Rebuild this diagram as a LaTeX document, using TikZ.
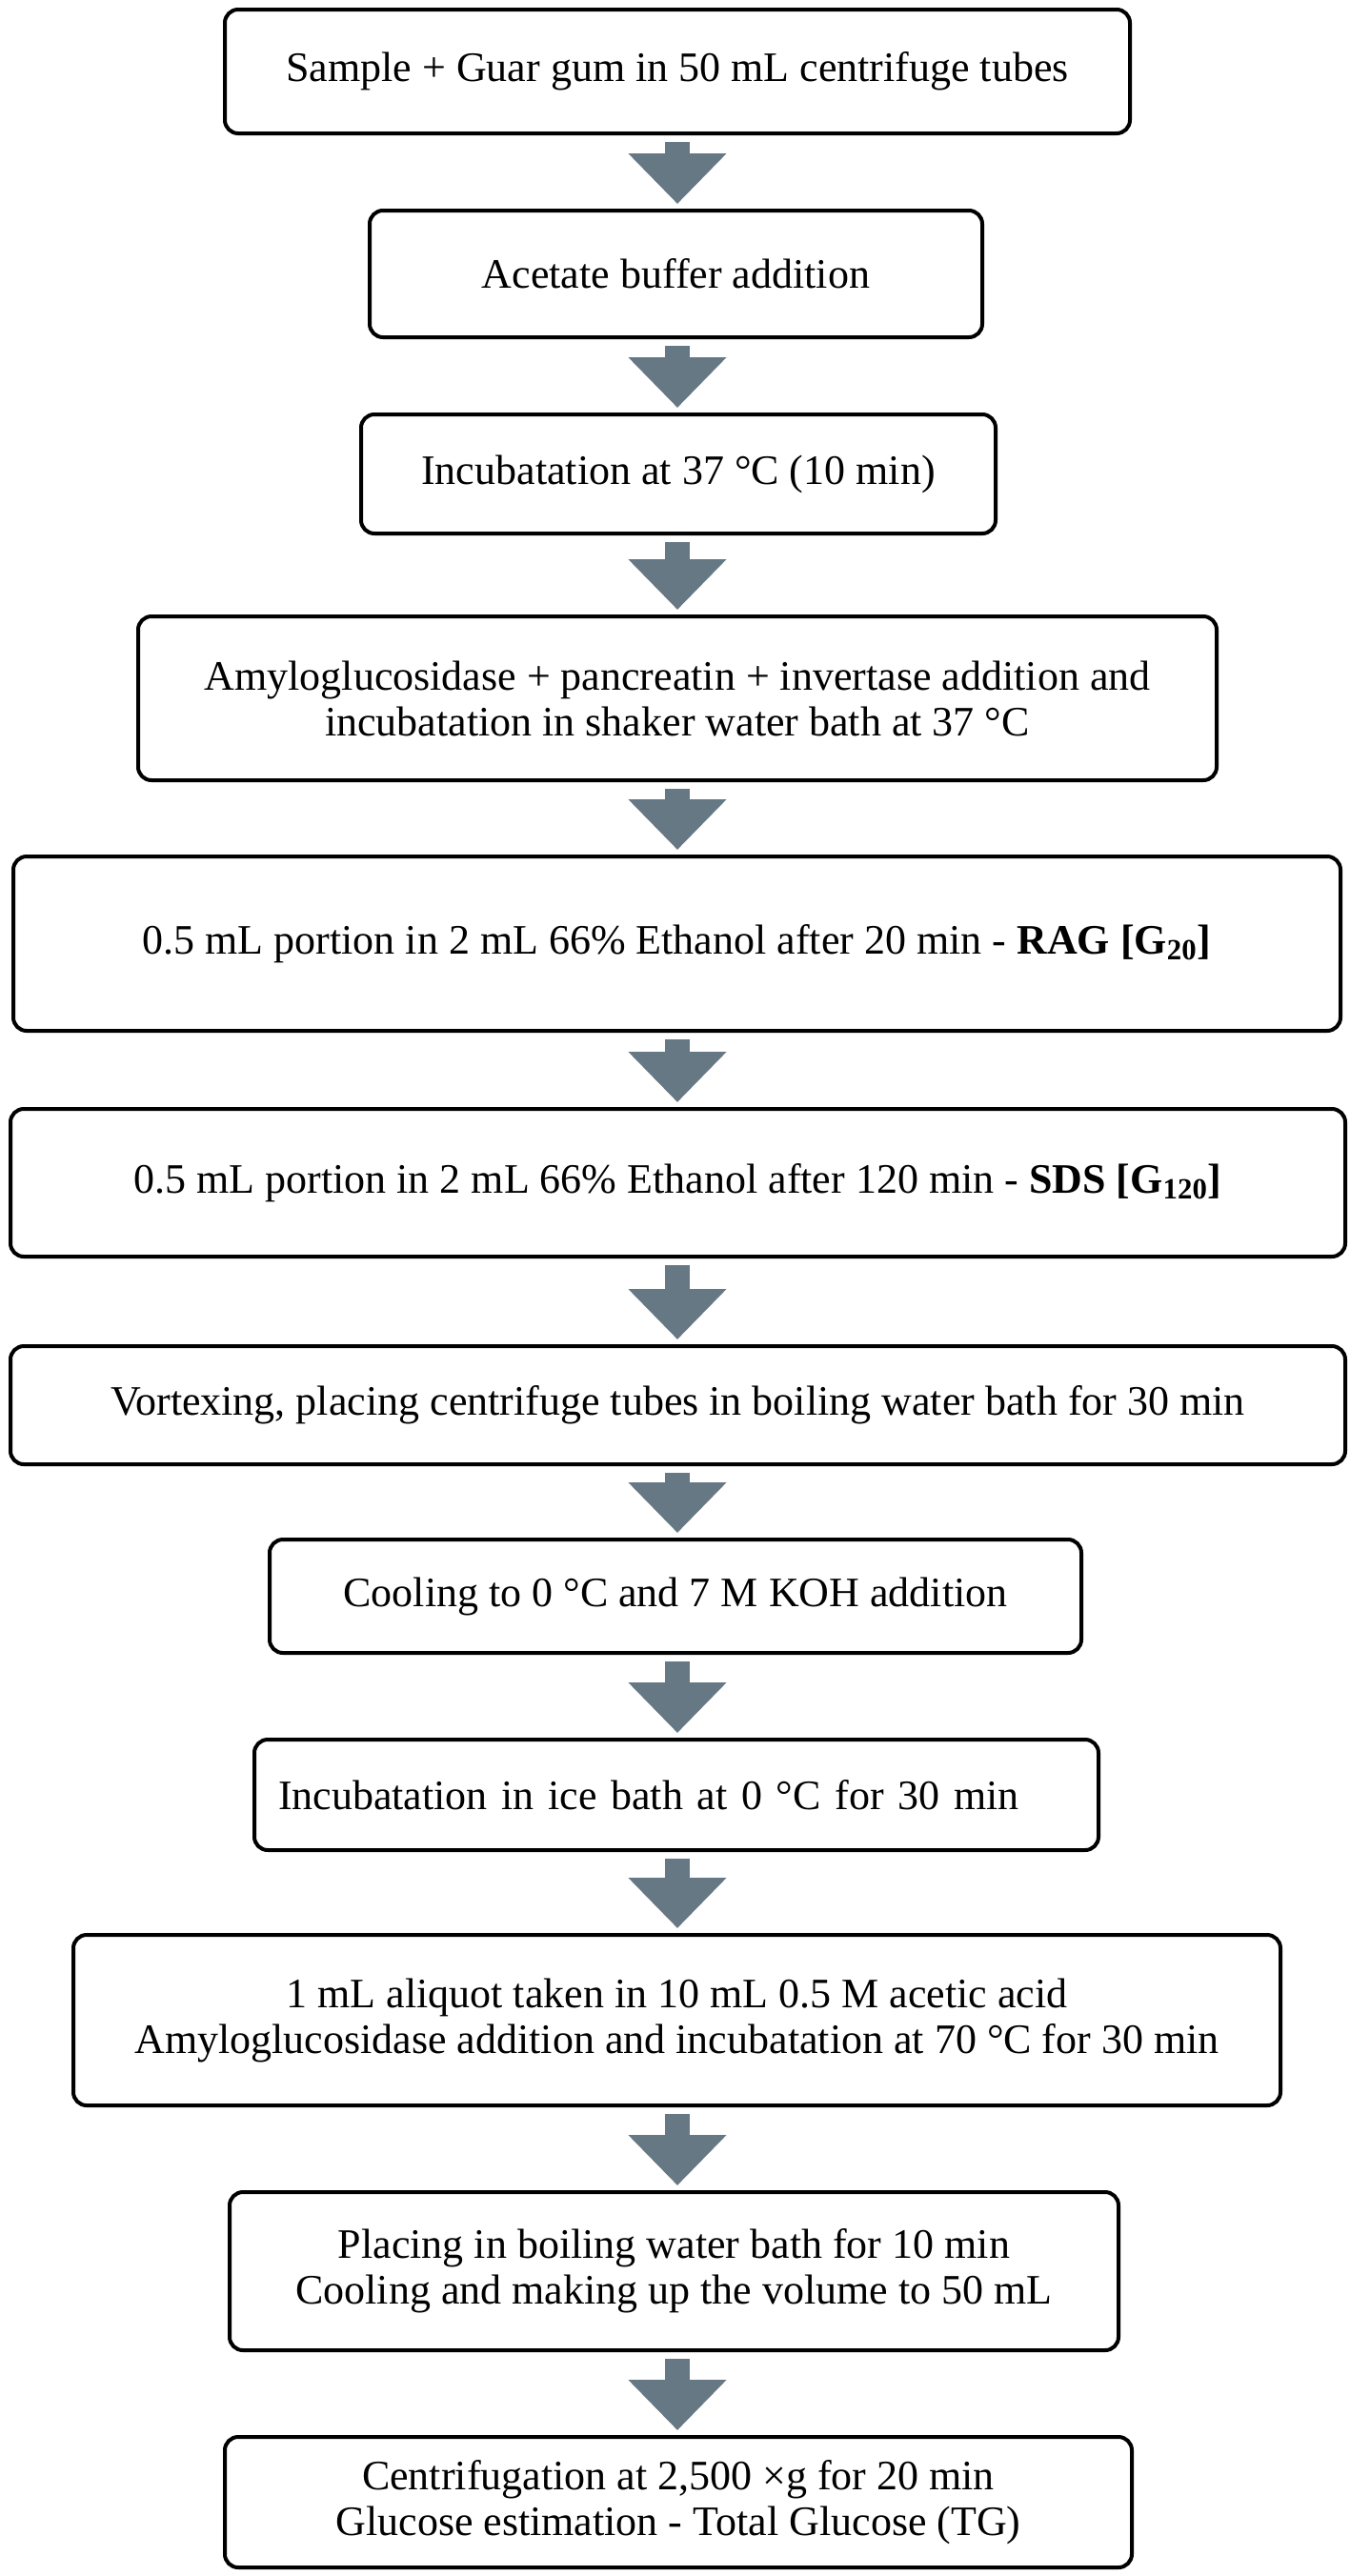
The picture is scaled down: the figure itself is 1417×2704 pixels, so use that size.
\documentclass[tikz,border=0pt]{standalone}
\usepackage{fontspec}
\setmainfont{Liberation Serif}
\usetikzlibrary{arrows.meta}
\definecolor{arrowgray}{RGB}{103,120,133}
\tikzset{
  stepbox/.style={draw=black, line width=2pt, rounded corners=7pt, fill=white,
    align=center, inner sep=0pt, font=\fontsize{22}{24}\selectfont},
  flowarrow/.style={draw=arrowgray, line width=13pt,
    -{Triangle[width=50pt,length=26.5pt]}, shorten <=3.5pt, shorten >=2.5pt}
}
\begin{document}
\begin{tikzpicture}[x=0.5pt,y=-0.5pt]
\useasboundingbox (0,0) rectangle (1417,2704);
\node[stepbox, minimum width=475pt, minimum height=65pt] (b1) at (711,75)
  {Sample + Guar gum in 50 mL centrifuge tubes};
\node[stepbox, minimum width=321.5pt, minimum height=66.5pt] (b2) at (709.5,287.5)
  {Acetate buffer addition};
\node[stepbox, minimum width=333pt, minimum height=62.5pt] (b3) at (712,497.5)
  {Incubatation at 37 °C (10 min)};
\node[stepbox, minimum width=566pt, minimum height=86pt] (b4) at (711,733)
  {Amyloglucosidase + pancreatin + invertase addition and\\incubatation in shaker water bath at 37 °C};
\node[stepbox, minimum width=696.5pt, minimum height=91.5pt] (b5) at (710.5,990.5)
  {0.5 mL portion in 2 mL 66\% Ethanol after 20 min - \textbf{RAG [G\textsubscript{20}]}};
\node[stepbox, minimum width=700.5pt, minimum height=77.5pt] (b6) at (711.5,1241.5)
  {0.5 mL portion in 2 mL 66\% Ethanol after 120 min - \textbf{SDS [G\textsubscript{120}]}};
\node[stepbox, minimum width=700.5pt, minimum height=62pt] (b7) at (711.5,1475)
  {Vortexing, placing centrifuge tubes in boiling water bath for 30 min};
\node[stepbox, minimum width=426pt, minimum height=59.5pt] (b8) at (709,1675.5)
  {Cooling to 0 °C and 7 M KOH addition};
\node[stepbox, minimum width=443pt, minimum height=58pt, text width=418pt, align=left] (b9) at (710,1884)
  {Incubatation in ice bath at 0 °C for 30 min};
\node[stepbox, minimum width=633.5pt, minimum height=89.5pt] (b10) at (710.5,2120.5)
  {1 mL aliquot taken in 10 mL 0.5 M acetic acid\\Amyloglucosidase addition and incubatation at 70 °C for 30 min};
\node[stepbox, minimum width=466.5pt, minimum height=83pt] (b11) at (707.5,2384)
  {Placing in boiling water bath for 10 min\\Cooling and making up the volume to 50 mL};
\node[stepbox, minimum width=476pt, minimum height=68.5pt] (b12) at (712,2626.5)
  {Centrifugation at 2,500 ×g for 20 min\\Glucose estimation - Total Glucose (TG)};
\foreach \a/\b in {b1/b2,b2/b3,b3/b4,b4/b5,b5/b6,b6/b7,b7/b8,b8/b9,b9/b10,b10/b11,b11/b12}{
  \draw[flowarrow] (\a.south -| 711,0) -- (\b.north -| 711,0);
}
\end{tikzpicture}
\end{document}
